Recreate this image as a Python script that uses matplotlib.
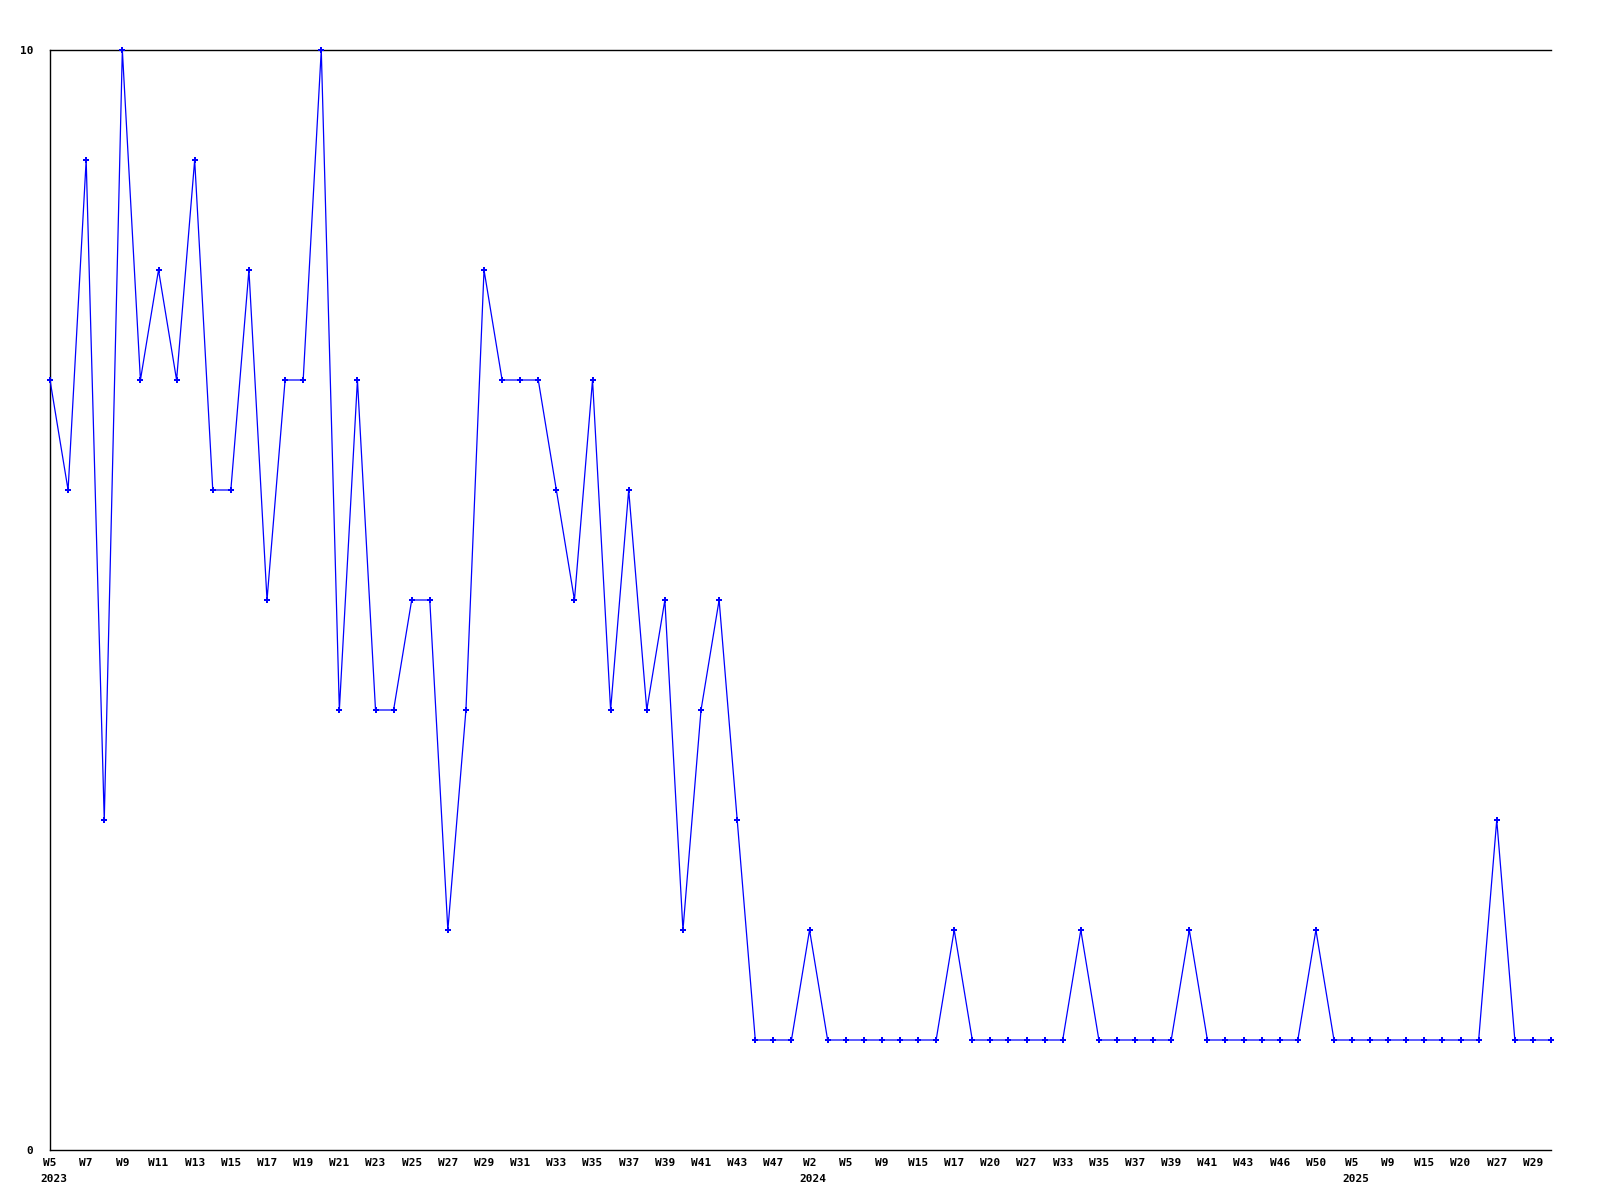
import matplotlib
matplotlib.use('Agg')

import matplotlib.pyplot as plt
import numpy as np

# week labels (only every second one is shown on the axis)
weeks = [
    'W5', 'W6', 'W7', 'W8', 'W9', 'W10', 'W11', 'W12', 'W13', 'W14',
    'W15', 'W16', 'W17', 'W18', 'W19', 'W20', 'W21', 'W22', 'W23', 'W24',
    'W25', 'W26', 'W27', 'W28', 'W29', 'W30', 'W31', 'W32', 'W33', 'W34',
    'W35', 'W36', 'W37', 'W38', 'W39', 'W40', 'W41', 'W42', 'W43', 'W45',
    'W47', 'W49',
    # 2024
    'W2', 'W3', 'W5', 'W7', 'W9', 'W12', 'W15', 'W16', 'W17', 'W19',
    'W20', 'W23', 'W27', 'W30', 'W33', 'W34', 'W35', 'W36', 'W37', 'W38',
    'W39', 'W40', 'W41', 'W42', 'W43', 'W44', 'W46', 'W48', 'W50', 'W52',
    # 2025
    'W5', 'W7', 'W9', 'W12', 'W15', 'W18', 'W20', 'W24', 'W27', 'W28',
    'W29', 'W30',
]
counts = [
    7, 6, 9, 3, 10, 7, 8, 7, 9, 6,
    6, 8, 5, 7, 7, 10, 4, 7, 4, 4,
    5, 5, 2, 4, 8, 7, 7, 7, 6, 5,
    7, 4, 6, 4, 5, 2, 4, 5, 3, 1,
    1, 1,
    2, 1, 1, 1, 1, 1, 1, 1, 2, 1,
    1, 1, 1, 1, 1, 2, 1, 1, 1, 1,
    1, 2, 1, 1, 1, 1, 1, 1, 2, 1,
    1, 1, 1, 1, 1, 1, 1, 1, 3, 1,
    1, 1,
]
# index where each year starts
year_starts = {0: '2023', 42: '2024', 72: '2025'}

font = dict(family='DejaVu Sans Mono', weight='bold', size=8)

fig = plt.figure(figsize=(16, 12), dpi=100, facecolor='white')
ax = fig.add_axes([50/1600, 50/1200, 1501/1600, 1100/1200])

x = np.arange(len(counts))
ax.plot(x, counts, color='#0000ff', linewidth=0.9,
        marker='P', markersize=4, markeredgewidth=0, zorder=3)
# keep the top/left points from being cut by the axes edge
ax.lines[0].set_clip_box(None)

ax.set_xlim(0, len(counts) - 1)
ax.set_ylim(0, 10)

ax.spines['right'].set_visible(False)
for s in ('left', 'top', 'bottom'):
    ax.spines[s].set_linewidth(1.0)
    ax.spines[s].set_color('black')

ax.set_yticks([0, 10])
ax.set_yticklabels(['0', '10'], fontdict=font)
ax.tick_params(axis='y', length=0, pad=12)

ticks = x[::2]
ax.set_xticks(ticks)
ax.set_xticklabels([weeks[i] for i in ticks], fontdict=font)
ax.tick_params(axis='x', length=0, pad=6)

for i, yr in year_starts.items():
    ax.annotate(yr, xy=(i, 0), xycoords=('data', 'axes fraction'),
                xytext=(2.5, -17), textcoords='offset points',
                ha='center', va='top', **font)

fig.savefig('out.png', dpi=100, facecolor='white')
plt.close(fig)
